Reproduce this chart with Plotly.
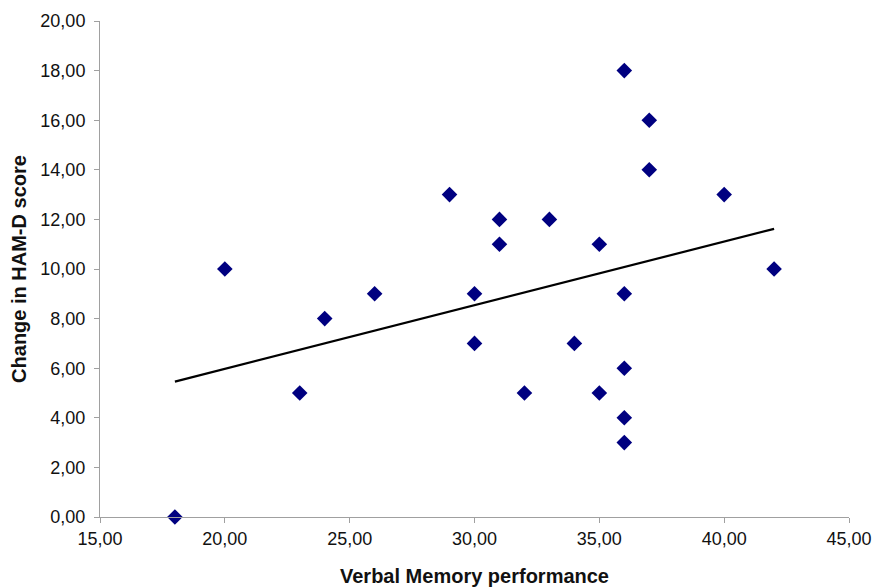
import numpy as np
import plotly.graph_objects as go

# Verbal memory performance vs. change in HAM-D score
verbal_memory = [18, 20, 23, 24, 26, 29, 30, 30, 31, 31, 32, 33, 34, 35, 35,
                 36, 36, 36, 36, 36, 37, 37, 40, 42]
hamd_change = [0, 10, 5, 8, 9, 13, 9, 7, 12, 11, 5, 12, 7, 11, 5,
               18, 9, 6, 4, 3, 16, 14, 13, 10]

x = np.array(verbal_memory, dtype=float)
y = np.array(hamd_change, dtype=float)
slope, intercept = np.polyfit(x, y, 1)
trend_x = [x.min(), x.max()]
trend_y = [slope * v + intercept for v in trend_x]

fig = go.Figure()
fig.add_trace(go.Scatter(
    x=trend_x, y=trend_y, mode="lines",
    line=dict(color="black", width=2.2),
    hoverinfo="skip", showlegend=False,
))
fig.add_trace(go.Scatter(
    x=verbal_memory, y=hamd_change, mode="markers",
    marker=dict(symbol="diamond", size=12, color="#000080",
                line=dict(width=0)),
    cliponaxis=False,
    showlegend=False,
))

FONT = "Liberation Sans, Arial"
axis_common = dict(
    showgrid=False, zeroline=False, showline=True,
    linecolor="#a0a0a0", linewidth=1,
    ticks="outside", ticklen=5, tickcolor="#a0a0a0",
    tickformat=".2f", automargin=False,
    tickfont=dict(family=FONT, size=18, color="#111111"),
)

fig.update_layout(
    width=874, height=587,
    margin=dict(l=100, r=25, t=21, b=70),
    paper_bgcolor="white", plot_bgcolor="white",
    separators=",.",
    xaxis=dict(range=[15, 45], dtick=5, tick0=15,
               title=dict(text="Verbal Memory performance", standoff=22,
                          font=dict(family=FONT, size=20,
                                    color="#111111", weight="bold")),
               **axis_common),
    yaxis=dict(range=[0, 20], dtick=2, tick0=0, ticklabelstandoff=5,
               title=dict(text="Change in HAM-D score", standoff=8,
                          font=dict(family=FONT, size=20,
                                    color="#111111", weight="bold")),
               **axis_common),
)

fig.write_html("out.html")
